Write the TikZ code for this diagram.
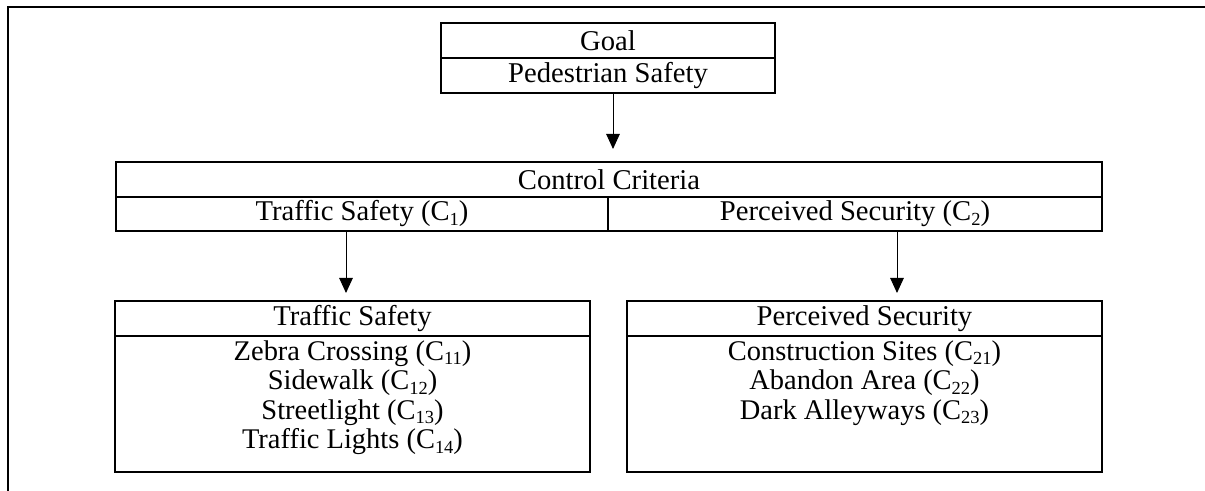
\documentclass[tikz,border=0pt]{standalone}
\usepackage{fontspec}
\setmainfont{Liberation Serif}
\usetikzlibrary{arrows.meta,positioning}
\newcommand\csub[1]{\raisebox{-0.35ex}{\fontsize{10.5}{10.5}\selectfont #1}}
\tikzset{
  cell/.style={draw, line width=1.05pt, inner sep=0pt, outer sep=0pt, minimum height=0.7cm, font=\fontsize{16.3}{16}\selectfont},
  items/.style={anchor=north, align=center, inner sep=0pt, font=\fontsize{16.2}{16.8}\selectfont},
  arr/.style={-{Triangle[width=0.27cm,length=0.3cm]}, line width=0.55pt}
}
\begin{document}
\begin{tikzpicture}
\useasboundingbox (0,0) rectangle (24.1,-9.82);
\draw[line width=1.3pt] (0.16,-9.82) -- (0.16,-0.14) -- (24.1,-0.14);
\node[cell, minimum width=6.68cm] (goal) at (12.16,-0.81) {Goal};
\node[cell, minimum width=6.68cm, below=0pt of goal] (ped) {Pedestrian Safety};
\node[cell, minimum width=19.72cm] (ctrl) at (12.18,-3.59) {Control Criteria};
\node[cell, minimum width=9.84cm, minimum height=0.68cm, anchor=north west] (c1) at (ctrl.south west) {Traffic Safety (C\csub{1})};
\node[cell, minimum width=9.88cm, minimum height=0.68cm, anchor=north east] (c2) at (ctrl.south east) {Perceived Security (C\csub{2})};
\node[cell, minimum width=9.5cm] (ts) at (7.05,-6.37) {Traffic Safety};
\node[cell, minimum width=9.5cm, minimum height=2.72cm, below=0pt of ts] (tsbody) {};
\node[items, below=0.08cm of tsbody.north] (tslist) {Zebra Crossing (C\csub{11})\\Sidewalk (C\csub{12})\\Streetlight (C\csub{13})\\Traffic Lights (C\csub{14})};
\node[cell, minimum width=9.5cm] (ps) at (17.29,-6.37) {Perceived Security};
\node[cell, minimum width=9.5cm, minimum height=2.72cm, below=0pt of ps] (psbody) {};
\node[items, below=0.08cm of psbody.north] (pslist) {Construction Sites (C\csub{21})\\Abandon Area (C\csub{22})\\Dark Alleyways (C\csub{23})};
\coordinate (t0) at (12.26,-2.98);
\coordinate (t1) at (6.92,-5.86);
\coordinate (t2) at (17.94,-5.86);
\draw[arr] (ped.south -| t0) -- (t0);
\draw[arr] (c1.south -| t1) -- (t1);
\draw[arr] (c2.south -| t2) -- (t2);
\end{tikzpicture}
\end{document}
